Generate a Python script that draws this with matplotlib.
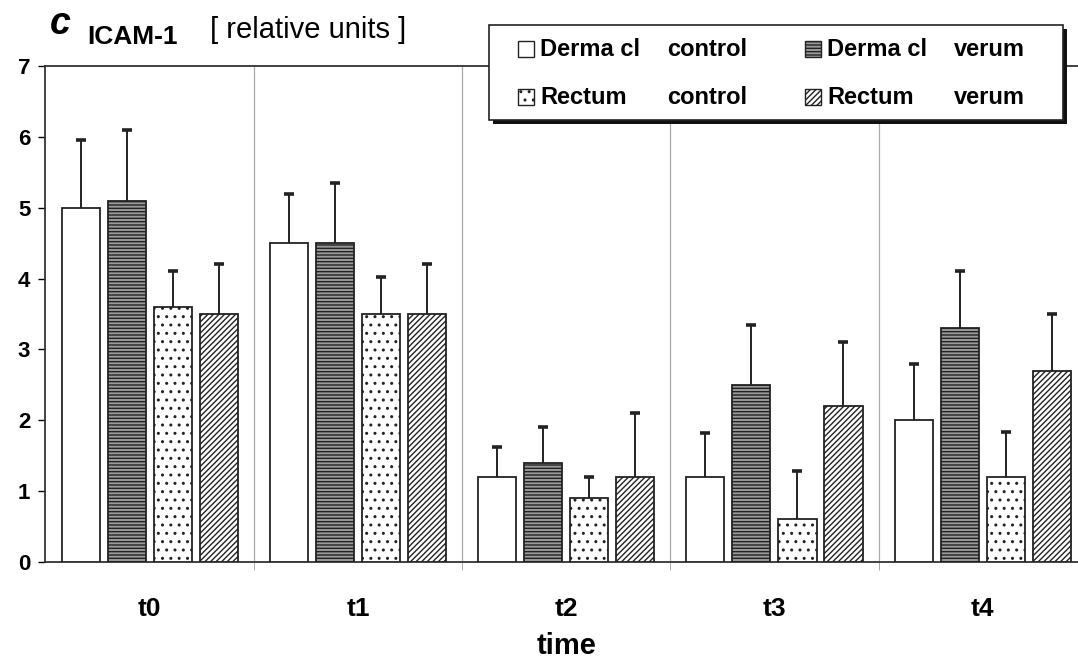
import numpy as np
import matplotlib.pyplot as plt
from matplotlib.patches import Rectangle

plt.rcParams['font.family'] = ['Liberation Sans', 'DejaVu Sans']
plt.rcParams['hatch.linewidth'] = 1.0

times = ["t0", "t1", "t2", "t3", "t4"]
organs = ["Derma cl", "Rectum"]
groups = ["control", "verum"]

# bar order inside a group: derma control, derma verum, rectum control, rectum verum
derma_control = [5.0, 4.5, 1.2, 1.2, 2.0]
derma_verum = [5.1, 4.5, 1.4, 2.5, 3.3]
rectum_control = [3.6, 3.5, 0.9, 0.6, 1.2]
rectum_verum = [3.5, 3.5, 1.2, 2.2, 2.7]

derma_control_err = [0.95, 0.7, 0.42, 0.62, 0.8]
derma_verum_err = [1.0, 0.85, 0.5, 0.85, 0.8]
rectum_control_err = [0.5, 0.52, 0.3, 0.68, 0.63]
rectum_verum_err = [0.7, 0.7, 0.9, 0.9, 0.8]

EDGE = "#222222"
styles = [
    dict(facecolor="white", hatch=None),
    dict(facecolor="#9a9a9a", hatch="-----"),
    dict(facecolor="white", hatch=".."),
    dict(facecolor="white", hatch="//////"),
]

fig = plt.figure(figsize=(10.78, 6.64), dpi=100)
ax = fig.add_axes([0.0422, 0.1536, 0.966, 0.747])

x = np.arange(len(times))
step = 0.221
width = 0.183
vals = [derma_control, derma_verum, rectum_control, rectum_verum]
errs = [derma_control_err, derma_verum_err, rectum_control_err, rectum_verum_err]

for i, (v, e, st) in enumerate(zip(vals, errs, styles)):
    pos = x + (i - 1.5) * step
    ax.bar(pos, v, width, edgecolor=EDGE, linewidth=1.3, zorder=3, **st)
    eb = ax.errorbar(pos, v, yerr=[np.zeros(len(e)), e], fmt="none", ecolor=EDGE,
                     elinewidth=1.4, capsize=3.5, capthick=2.6, zorder=4)
    eb[1][0].set_visible(False)  # no cap on the bar top

ax.set_xlim(-0.5, 4.5)
ax.set_ylim(0, 7)
ax.set_yticks(range(0, 8))
ax.set_xticks(x)
ax.set_xticklabels(times, fontsize=19, fontweight="bold")
ax.set_xticks(np.arange(0.5, 4.5, 1), minor=True)
ax.tick_params(axis="x", which="major", length=0, pad=25)
ax.tick_params(axis="x", which="minor", length=6, color="#999999", direction="out")
ax.tick_params(axis="y", length=5, width=1, direction="out", labelsize=16, pad=6)
for lab in ax.get_yticklabels():
    lab.set_fontweight("bold")
ax.grid(True, which="minor", axis="x", color="#aaaaaa", linewidth=0.9)
ax.grid(False, which="major")
for s in ["left", "bottom", "top"]:
    ax.spines[s].set_linewidth(1.3)
    ax.spines[s].set_color("#333333")
ax.spines["right"].set_visible(False)

ax.set_xlabel("time", fontsize=21, fontweight="bold", labelpad=8)

fig.text(50 / 1078, 1 - 34 / 664, "c", fontsize=27, fontweight="bold", style="italic", va="baseline")
fig.text(87 / 1078, 1 - 44 / 664, "ICAM-1", fontsize=19, fontweight="bold", va="baseline")
fig.text(210 / 1078, 1 - 38 / 664, "[ relative units ]", fontsize=21, va="baseline")

# legend box drawn in its own pixel-sized axes
L, R, T, B = 489, 1063, 25, 120
lax = fig.add_axes([L / 1078, 1 - B / 664, (R - L) / 1078, (B - T) / 664])
lax.set_xlim(L, R)
lax.set_ylim(B, T)
lax.axis("off")
lax.add_patch(Rectangle((L + 4, T + 4), R - L, B - T, facecolor="#111111",
                        edgecolor="none", clip_on=False, zorder=0))
lax.add_patch(Rectangle((L, T), R - L, B - T, facecolor="white",
                        edgecolor="#222222", linewidth=1.2, clip_on=False, zorder=1))
col_x = [518, 805]
row_y = [50, 98]
for c, grp in enumerate(groups):
    for r, org in enumerate(organs):
        st = styles[c + 2 * r]
        lax.add_patch(Rectangle((col_x[c], row_y[r] - 9), 16, 16, edgecolor=EDGE,
                                linewidth=1, zorder=2, **st))
        lax.text(col_x[c] + 22, row_y[r], org, fontsize=17, fontweight="bold",
                 va="center", ha="left", zorder=3)
        lax.text(col_x[c] + 149, row_y[r], grp, fontsize=17, fontweight="bold",
                 va="center", ha="left", zorder=3)

fig.savefig("out.png", dpi=100)
